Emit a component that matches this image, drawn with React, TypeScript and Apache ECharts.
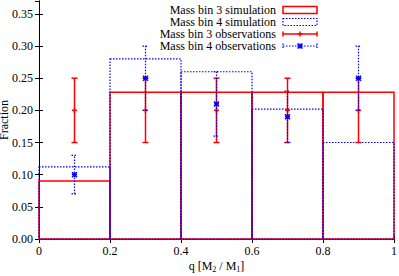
import React, { useEffect, useRef } from 'react';
import * as echarts from 'echarts';

const seriesNames = [
  'Mass bin 3 simulation',
  'Mass bin 4 simulation',
  'Mass bin 3 observations',
  'Mass bin 4 observations',
];
const binStarts = [0, 0.2, 0.4, 0.6, 0.8];
const binEnds = [0.2, 0.4, 0.6, 0.8, 1.0];
const sim3 = [0.09, 0.228, 0.228, 0.228, 0.228];
const sim4 = [0.112, 0.28, 0.26, 0.202, 0.15];
const obsX = [0.1, 0.3, 0.5, 0.7, 0.9];
const obs3 = [0.2, 0.2, 0.2, 0.2, 0.2];
const obs3Low = [0.15, 0.15, 0.15, 0.15, 0.15];
const obs3High = [0.25, 0.25, 0.25, 0.25, 0.25];
const obs4 = [0.1, 0.25, 0.21, 0.19, 0.25];
const obs4Low = [0.07, 0.2, 0.16, 0.15, 0.2];
const obs4High = [0.13, 0.3, 0.26, 0.23, 0.3];

const FONT = '"Liberation Serif", "Times New Roman", serif';
const RED = '#ff0000';
const BLUE = '#0000ff';
const DOT = [1.5, 1.5];

function boxSeries(name: string, vals: number[], color: string, dashed: boolean) {
  return {
    type: 'custom',
    name,
    encode: { x: [0, 1], y: 2 },
    data: vals.map((v, i) => [binStarts[i], binEnds[i], v]),
    renderItem: (_p: any, api: any) => {
      const a = api.coord([api.value(0), api.value(2)]);
      const b = api.coord([api.value(1), 0]);
      return {
        type: 'rect',
        shape: { x: a[0], y: a[1], width: b[0] - a[0], height: b[1] - a[1] },
        style: {
          fill: 'none',
          stroke: color,
          lineWidth: dashed ? 1.2 : 1.5,
          lineDash: dashed ? DOT : null,
        },
      };
    },
  };
}

function markerChildren(cx: number, cy: number, color: string, star: boolean) {
  const s = 2.5;
  const st = { stroke: color, lineWidth: 1.5 };
  const ch: any[] = [
    { type: 'line', shape: { x1: cx - s, y1: cy, x2: cx + s, y2: cy }, style: st },
    { type: 'line', shape: { x1: cx, y1: cy - s, x2: cx, y2: cy + s }, style: st },
  ];
  if (star) {
    ch.push({ type: 'line', shape: { x1: cx - s, y1: cy - s, x2: cx + s, y2: cy + s }, style: st });
    ch.push({ type: 'line', shape: { x1: cx - s, y1: cy + s, x2: cx + s, y2: cy - s }, style: st });
  }
  return ch;
}

function errSeries(name: string, vals: number[], lo: number[], hi: number[], color: string, dotted: boolean) {
  return {
    type: 'custom',
    name,
    encode: { x: 0, y: 1 },
    data: vals.map((v, i) => [obsX[i], v, lo[i], hi[i]]),
    renderItem: (_p: any, api: any) => {
      const c = api.coord([api.value(0), api.value(1)]);
      const l = api.coord([api.value(0), api.value(2)]);
      const h = api.coord([api.value(0), api.value(3)]);
      const cap = 3;
      const st = { stroke: color, lineWidth: dotted ? 1.2 : 1.5, lineDash: dotted ? DOT : null };
      return {
        type: 'group',
        children: [
          { type: 'line', shape: { x1: l[0], y1: l[1], x2: h[0], y2: h[1] }, style: st },
          { type: 'line', shape: { x1: h[0] - cap, y1: h[1], x2: h[0] + cap, y2: h[1] }, style: st },
          { type: 'line', shape: { x1: l[0] - cap, y1: l[1], x2: l[0] + cap, y2: l[1] }, style: st },
          ...markerChildren(c[0], c[1], color, dotted),
        ],
      };
    },
  };
}

function legendGraphics() {
  const textRight = 276;
  const x0 = 283;
  const x1 = 317;
  const rows = [10, 22, 34, 46];
  const els: any[] = [];
  seriesNames.forEach((n, i) => {
    els.push({
      type: 'text',
      x: textRight,
      y: rows[i],
      style: { text: n, align: 'right', verticalAlign: 'middle', fontSize: 12, lineHeight: 11, fontFamily: FONT, fill: '#000' },
    });
  });
  els.push({ type: 'rect', shape: { x: x0, y: rows[0] - 3.5, width: x1 - x0, height: 7 }, style: { fill: 'none', stroke: RED, lineWidth: 1.5 } });
  els.push({ type: 'rect', shape: { x: x0, y: rows[1] - 3.5, width: x1 - x0, height: 7 }, style: { fill: 'none', stroke: BLUE, lineWidth: 1.2, lineDash: DOT } });
  const errRow = (y: number, color: string, dotted: boolean) => {
    const st = { stroke: color, lineWidth: dotted ? 1.2 : 1.5, lineDash: dotted ? DOT : null };
    els.push({ type: 'line', shape: { x1: x0, y1: y, x2: x1, y2: y }, style: st });
    els.push({ type: 'line', shape: { x1: x0, y1: y - 2.5, x2: x0, y2: y + 2.5 }, style: st });
    els.push({ type: 'line', shape: { x1: x1, y1: y - 2.5, x2: x1, y2: y + 2.5 }, style: st });
    markerChildren((x0 + x1) / 2, y, color, dotted).forEach((m) => els.push(m));
  };
  errRow(rows[2], RED, false);
  errRow(rows[3], BLUE, true);
  return els;
}

const axisLineStyle = { color: '#000', width: 1 };

export default function App() {
  const ref = useRef<HTMLDivElement>(null);
  useEffect(() => {
    document.body.style.margin = '0';
    const chart = echarts.init(ref.current!, undefined, { renderer: 'svg' });
    chart.setOption({
      animation: false,
      backgroundColor: '#fff',
      grid: { left: 39, right: 5, top: 1, bottom: 37, containLabel: false, outerBoundsMode: 'none' },
      xAxis: [
        {
          type: 'value',
          min: 0,
          max: 1,
          interval: 0.2,
          position: 'bottom',
          name: 'q [M{sub|2} / M{sub|1}]',
          nameLocation: 'middle',
          nameGap: 19,
          nameMoveOverlap: false,
          nameTextStyle: {
            fontFamily: FONT,
            fontSize: 12,
            color: '#000',
            lineHeight: 15,
            rich: { sub: { fontFamily: FONT, fontSize: 8, color: '#000', verticalAlign: 'bottom', lineHeight: 15 } },
          },
          axisLine: { show: true, lineStyle: axisLineStyle },
          axisTick: { show: true, inside: true, length: 4, lineStyle: axisLineStyle },
          axisLabel: {
            margin: 6,
            color: '#000',
            fontFamily: FONT,
            fontSize: 12,
            formatter: (v: number) => String(+v.toFixed(1)),
          },
          splitLine: { show: false },
        },
        {
          type: 'value',
          min: 0,
          max: 1,
          interval: 0.2,
          position: 'top',
          axisLine: { show: true, lineStyle: axisLineStyle },
          axisTick: { show: true, inside: true, length: 4, lineStyle: axisLineStyle },
          axisLabel: { show: false },
          splitLine: { show: false },
        },
      ],
      yAxis: [
        {
          type: 'value',
          min: 0,
          max: 0.37,
          interval: 0.05,
          position: 'left',
          name: 'Fraction',
          nameLocation: 'middle',
          nameGap: 29,
          nameMoveOverlap: false,
          nameTextStyle: { fontFamily: FONT, fontSize: 12, color: '#000' },
          axisLine: { show: true, lineStyle: axisLineStyle },
          axisTick: { show: true, inside: true, length: 4, lineStyle: axisLineStyle },
          axisLabel: {
            margin: 6,
            color: '#000',
            fontFamily: FONT,
            fontSize: 12,
            showMaxLabel: false,
            formatter: (v: number) => (Math.abs(v / 0.05 - Math.round(v / 0.05)) < 1e-6 ? v.toFixed(2) : ''),
          },
          splitLine: { show: false },
        },
        {
          type: 'value',
          min: 0,
          max: 0.37,
          interval: 0.05,
          position: 'right',
          axisLine: { show: true, lineStyle: axisLineStyle },
          axisTick: { show: true, inside: true, length: 4, lineStyle: axisLineStyle },
          axisLabel: { show: false },
          splitLine: { show: false },
        },
      ],
      series: [
        boxSeries(seriesNames[0], sim3, RED, false),
        boxSeries(seriesNames[1], sim4, BLUE, true),
        errSeries(seriesNames[2], obs3, obs3Low, obs3High, RED, false),
        errSeries(seriesNames[3], obs4, obs4Low, obs4High, BLUE, true),
      ],
      graphic: legendGraphics(),
    });
    return () => chart.dispose();
  }, []);
  return <div ref={ref} style={{ width: 399, height: 276 }} />;
}
